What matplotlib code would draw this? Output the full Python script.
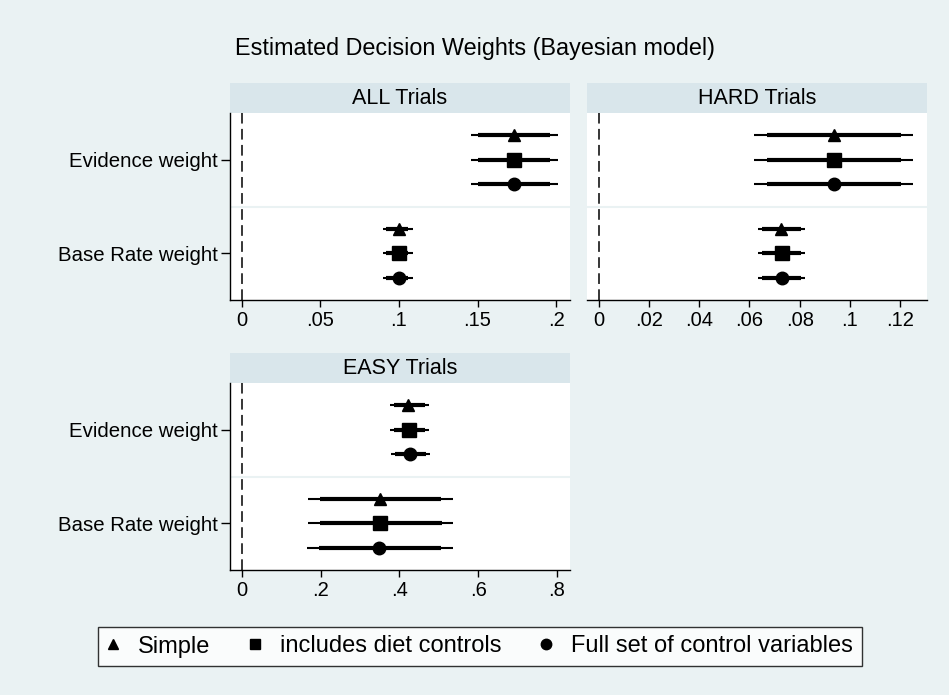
import matplotlib
matplotlib.use("Agg")
import matplotlib.pyplot as plt
from matplotlib.lines import Line2D

plt.rcParams['font.family'] = ['Liberation Sans', 'DejaVu Sans']

### couleurs (schéma Stata s2color)
bg = "#eaf2f3"
strip = "#d9e6eb"

W, H = 949, 695

### données
models = ["Simple", "includes diet controls", "Full set of control variables"]
markers = ["^", "s", "o"]
terms = ["Evidence weight", "Base Rate weight"]

# ALL Trials : [Evidence], [Base Rate]  (une valeur par modèle)
all_est  = [[0.173, 0.173, 0.173], [0.100, 0.100, 0.100]]
all_lo95 = [[0.146, 0.146, 0.146], [0.090, 0.090, 0.090]]
all_hi95 = [[0.201, 0.201, 0.201], [0.109, 0.109, 0.109]]
all_lo90 = [[0.150, 0.150, 0.150], [0.092, 0.092, 0.092]]
all_hi90 = [[0.196, 0.196, 0.196], [0.106, 0.106, 0.106]]

# HARD Trials
hard_est  = [[0.0937, 0.0937, 0.0937], [0.0726, 0.0728, 0.0728]]
hard_lo95 = [[0.0618, 0.0618, 0.0618], [0.0634, 0.0632, 0.0632]]
hard_hi95 = [[0.1252, 0.1252, 0.1252], [0.0821, 0.0821, 0.0823]]
hard_lo90 = [[0.0670, 0.0670, 0.0670], [0.0650, 0.0650, 0.0650]]
hard_hi90 = [[0.1204, 0.1204, 0.1204], [0.0805, 0.0805, 0.0805]]

# EASY Trials
easy_est  = [[0.422, 0.424, 0.427], [0.350, 0.352, 0.349]]
easy_lo95 = [[0.376, 0.376, 0.378], [0.168, 0.168, 0.165]]
easy_hi95 = [[0.475, 0.476, 0.477], [0.535, 0.537, 0.535]]
easy_lo90 = [[0.386, 0.386, 0.388], [0.198, 0.198, 0.195]]
easy_hi90 = [[0.465, 0.466, 0.467], [0.505, 0.507, 0.505]]

panels = [
    ("ALL Trials", (230, 113, 570, 300), (-0.0076, 0.2089), [0, 0.05, 0.1, 0.15, 0.2],
     ["0", ".05", ".1", ".15", ".2"], True, all_est, all_lo95, all_hi95, all_lo90, all_hi90),
    ("HARD Trials", (587, 113, 927, 300), (-0.0048, 0.1308), [0, 0.02, 0.04, 0.06, 0.08, 0.1, 0.12],
     ["0", ".02", ".04", ".06", ".08", ".1", ".12"], False, hard_est, hard_lo95, hard_hi95, hard_lo90, hard_hi90),
    ("EASY Trials", (230, 383, 570, 570), (-0.030, 0.833), [0, 0.2, 0.4, 0.6, 0.8],
     ["0", ".2", ".4", ".6", ".8"], True, easy_est, easy_lo95, easy_hi95, easy_lo90, easy_hi90),
]

offsets = [-0.26, 0.0, 0.26]


def rect(x0, y0, x1, y1):
    """ pixels -> coordonnées figure """
    return [x0 / W, 1 - y1 / H, (x1 - x0) / W, (y1 - y0) / H]


fig = plt.figure(figsize=(W / 100, H / 100), dpi=100, facecolor=bg)

fig.text(475 / W, 1 - 48 / H, "Estimated Decision Weights (Bayesian model)",
         ha="center", va="center", fontsize=16.8)

for title, (x0, y0, x1, y1), xlim, xt, xtl, ylab, est, lo95, hi95, lo90, hi90 in panels:
    # bandeau du titre
    sax = fig.add_axes(rect(x0, y0 - 30, x1, y0))
    sax.set_facecolor(strip)
    sax.set_xticks([])
    sax.set_yticks([])
    for s in sax.spines.values():
        s.set_visible(False)
    sax.text(0.5, 0.47, title, ha="center", va="center", fontsize=15.5, transform=sax.transAxes)

    ax = fig.add_axes(rect(x0, y0, x1, y1))
    ax.set_facecolor("white")
    ax.set_xlim(*xlim)
    ax.set_ylim(2.5, 0.5)
    ax.axhline(1.5, color=bg, lw=1.5, zorder=1)
    ax.axvline(0, color="black", lw=1.1, ls=(0, (7, 3.5)), zorder=2)

    for i in range(len(terms)):
        for j in range(len(models)):
            y = i + 1 + offsets[j]
            ax.plot([lo95[i][j], hi95[i][j]], [y, y], color="black", lw=1.5, solid_capstyle="butt", zorder=3)
            ax.plot([lo90[i][j], hi90[i][j]], [y, y], color="black", lw=3.0, solid_capstyle="butt", zorder=3)
            ax.plot(est[i][j], y, marker=markers[j], color="black", ms=9 if j != 1 else 9.5,
                    ls="none", zorder=4)

    for s in ["top", "right"]:
        ax.spines[s].set_visible(False)
    ax.spines["bottom"].set_linewidth(1.0)
    ax.set_xticks(xt)
    ax.set_xticklabels(xtl, fontsize=14.5)
    ax.tick_params(axis="x", length=5, width=1, pad=3)
    if ylab:
        ax.set_yticks([1, 2])
        ax.set_yticklabels(terms, fontsize=14.7)
        ax.tick_params(axis="y", length=6.5, width=1, pad=2)
        ax.spines["left"].set_linewidth(1.0)
    else:
        ax.set_yticks([])
        ax.spines["left"].set_visible(False)

### légende
handles = [Line2D([], [], marker=m, color="black", ls="none", ms=7.5) for m in markers]
leg = fig.legend(handles, models, loc="center", ncol=3,
                 bbox_to_anchor=(480 / W, 1 - 646.5 / H),
                 fontsize=17, frameon=True, fancybox=False, edgecolor="black",
                 handlelength=0.5, handletextpad=0.8, columnspacing=1.65, borderpad=0.38,
                 borderaxespad=0)
leg.get_frame().set_linewidth(1.0)
leg.get_frame().set_facecolor("white")

fig.savefig("out.png", dpi=100, facecolor=bg)
